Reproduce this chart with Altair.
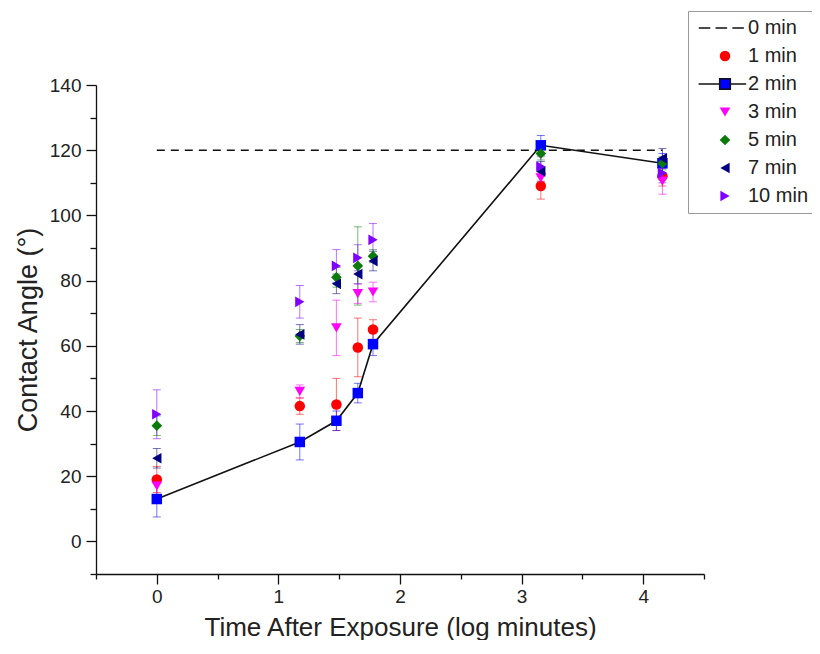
import altair as alt
import pandas as pd

# x positions: log10(minutes after exposure)
x_log = [0.0, 1.176, 1.477, 1.653, 1.778, 3.158, 4.158]
series = ["0 min", "1 min", "2 min", "3 min", "5 min", "7 min", "10 min"]
colors = ["#000000", "#ff0000", "#0000ff", "#ff00ff", "#0a7a0a", "#000080", "#8000ff"]
legend_strokes = ["#111111", "transparent", "#111111", "transparent", "transparent", "transparent", "transparent"]

ref_0min = [120, 120, 120, 120, 120, 120, 120]
y_1min = [19, 41.5, 42, 59.5, 65, 109, 112]
e_1min = [4, 2.5, 8, 9, 3, 4, 3]
y_2min = [13, 30.5, 37, 45.5, 60.5, 121.5, 116]
e_2min = [5.5, 5.5, 3, 3, 3.5, 3, 3]
y_3min = [17, 46, 65.5, 76, 76.5, 111.5, 110.5]
e_3min = [3, 2, 8.5, 3, 3, 3, 4]
y_5min = [35.5, 63, 81, 84.5, 87.5, 119, 116]
e_5min = [3, 2, 3, 12, 2, 2, 2]
y_7min = [25.5, 63.5, 79, 82, 86, 113.5, 117.5]
e_7min = [3, 3, 3, 3, 3, 3, 3]
y_10min = [39, 73.5, 84.5, 87, 92.5, 115, 113]
e_10min = [7.5, 5, 5, 4, 5, 3, 3]

dash_path = "M-5,0H-2.8M-1.8,0H0.4M1.4,0H3.6"
line_sq = "M-5,0H-1M1,0H4M-1,-1H1V1H-1Z"
shapes = [dash_path, "circle", line_sq, "triangle-down", "diamond", "triangle-left", "triangle-right"]
sizes = [110, 115, 110, 155, 135, 155, 155]

vals = {"1 min": (y_1min, e_1min), "2 min": (y_2min, e_2min), "3 min": (y_3min, e_3min),
        "5 min": (y_5min, e_5min), "7 min": (y_7min, e_7min), "10 min": (y_10min, e_10min)}
rows = []
for s, (ys, es) in vals.items():
    for xv, yv, ev in zip(x_log, ys, es):
        rows.append({"series": s, "x": xv, "y": yv, "lo": yv - ev, "hi": yv + ev})
pts = pd.DataFrame(rows)
line2 = pd.DataFrame({"x": x_log, "y": y_2min})
ref = pd.DataFrame({"x": x_log, "y": ref_0min})

FONT = "Liberation Sans"
xscale = alt.Scale(domain=[-0.5, 4.5], nice=False, zero=False)
yscale = alt.Scale(domain=[-10, 140], nice=False, zero=False)

x_axis = alt.Axis(
    values=[-0.5, 0, 0.5, 1, 1.5, 2, 2.5, 3, 3.5, 4, 4.5],
    labelExpr="datum.value % 1 === 0 ? format(datum.value, 'd') : ''",
    tickSize={"condition": {"test": "datum.value % 1 === 0", "value": 10}, "value": 5},
    title="Time After Exposure (log minutes)", labelPadding=3, titlePadding=8,
    titleFontSize=26,
)
y_axis = alt.Axis(
    values=list(range(0, 141, 20)), format="d", tickSize=10, orient="left",
    title="Contact Angle (°)", labelPadding=5, titlePadding=7, titleFontSize=27,
)
y_minor_axis = alt.Axis(
    values=list(range(-10, 141, 20)), labels=False, tickSize=6, domain=False,
    title=None, orient="left",
)

legend = alt.Legend(
    title=None, orient="none", legendX=592, legendY=-74, direction="vertical",
    fillColor="white", strokeColor="#999999", padding=7, cornerRadius=0,
    labelFont=FONT, labelFontSize=20, labelColor="#222222",
    symbolOffset=20, labelOffset=13, rowPadding=8,
    symbolStrokeWidth=1.6, symbolOpacity=1,
)

base_x = alt.X("x:Q", scale=xscale, axis=x_axis)
main_y = alt.Y("y:Q", scale=yscale, axis=y_axis)
plain_y = alt.Y("y:Q", scale=yscale, axis=None)

y_minor = alt.Chart(ref).mark_point(opacity=0).encode(
    x=base_x, y=alt.Y("y:Q", scale=yscale, axis=y_minor_axis))

ref_line = alt.Chart(ref).mark_line(color="#111111", strokeDash=[8, 6], strokeWidth=1.6).encode(
    x=base_x, y=main_y)

err = alt.Chart(pts).mark_rule(strokeWidth=1, opacity=0.55).encode(
    x=alt.X("x:Q", scale=xscale), y=alt.Y("lo:Q", scale=yscale, axis=None), y2="hi:Q",
    color=alt.Color("series:N", scale=alt.Scale(domain=series, range=colors), legend=None))
cap_lo = alt.Chart(pts).mark_tick(orient="horizontal", size=8, thickness=1, opacity=0.55).encode(
    x=alt.X("x:Q", scale=xscale), y=alt.Y("lo:Q", scale=yscale, axis=None),
    color=alt.Color("series:N", scale=alt.Scale(domain=series, range=colors), legend=None))
cap_hi = alt.Chart(pts).mark_tick(orient="horizontal", size=8, thickness=1, opacity=0.55).encode(
    x=alt.X("x:Q", scale=xscale), y=alt.Y("hi:Q", scale=yscale, axis=None),
    color=alt.Color("series:N", scale=alt.Scale(domain=series, range=colors), legend=None))

line_2 = alt.Chart(line2).mark_line(color="#111111", strokeWidth=1.6).encode(x=base_x, y=plain_y)

squares_2 = alt.Chart(pts).transform_filter("datum.series === '2 min'").mark_square(
    size=110, color="#0000ff", opacity=1).encode(x=base_x, y=plain_y)

points = alt.Chart(pts).transform_filter("datum.series !== '2 min'").mark_point(
    filled=True, opacity=1).encode(
    x=base_x, y=plain_y,
    fill=alt.Fill("series:N", scale=alt.Scale(domain=series, range=colors), legend=legend),
    shape=alt.Shape("series:N", scale=alt.Scale(domain=series, range=shapes), legend=legend),
    stroke=alt.Stroke("series:N", scale=alt.Scale(domain=series, range=legend_strokes), legend=legend),
    size=alt.Size("series:N", scale=alt.Scale(domain=series, range=sizes), legend=legend),
)

chart = alt.layer(y_minor, ref_line, err, cap_lo, cap_hi, line_2, squares_2, points).properties(
    width=608, height=489,
    autosize=alt.AutoSizeParams(type="none"),
    padding={"left": 88, "top": 77, "right": 108, "bottom": 66},
    background="white",
).resolve_scale(color="independent").resolve_axis(y="independent").configure_view(
    stroke=None).configure_axis(
    grid=False, domainColor="#111111", domainWidth=1.3, tickColor="#111111", tickWidth=1.3,
    labelFont=FONT, labelFontSize=19, labelColor="#222222",
    titleFont=FONT, titleFontWeight="normal", titleColor="#222222",
)

chart.save("out.html", embed_options={"renderer": "svg", "actions": False})
